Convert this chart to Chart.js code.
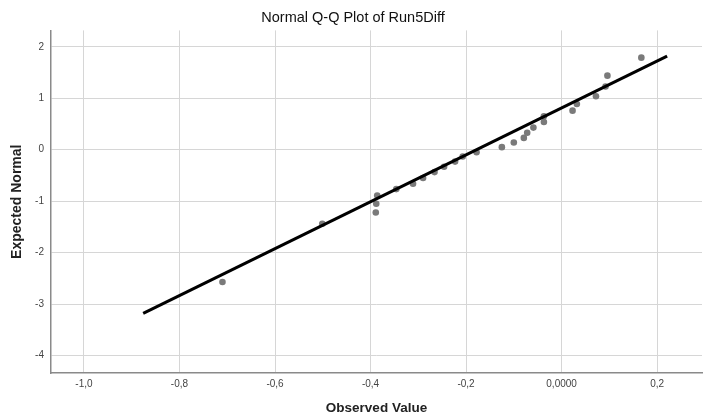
<!DOCTYPE html>
<html>
<head>
<meta charset="utf-8">
<script src="https://cdn.jsdelivr.net/npm/chart.js@4/dist/chart.umd.min.js"></script>
<style>
  html, body { margin: 0; padding: 0; background: #fff; }
  #wrap { width: 706px; height: 417px; }
</style>
</head>
<body>
<div id="wrap"><canvas id="qq" width="706" height="417"></canvas></div>
<script>
// observed values of Run5Diff and their expected normal scores
const observed = [-0.710, -0.501, -0.389, -0.388, -0.386, -0.346, -0.311, -0.290, -0.266, -0.246,
  -0.223, -0.207, -0.178, -0.125, -0.100, -0.079, -0.072, -0.059, -0.037, -0.037,
  0.023, 0.032, 0.072, 0.092, 0.096, 0.167];
const expected = [-2.57, -1.44, -1.22, -1.05, -0.89, -0.765, -0.66, -0.55, -0.435, -0.33,
  -0.23, -0.13, -0.047, 0.05, 0.14, 0.23, 0.33, 0.43, 0.54, 0.65,
  0.76, 0.89, 1.04, 1.23, 1.44, 1.79];

// reference line end points
const lineX = [-0.876, 0.221];
const lineY = [-3.18, 1.82];

const xTicks = [-1.0, -0.8, -0.6, -0.4, -0.2, 0.0, 0.2];
const xTickLabels = ["-1,0", "-0,8", "-0,6", "-0,4", "-0,2", "0,0000", "0,2"];
const yTicks = [-4, -3, -2, -1, 0, 1, 2];
const yTickLabels = ["-4", "-3", "-2", "-1", "0", "1", "2"];

const FONT = "'Liberation Sans', Arial, sans-serif";

new Chart(document.getElementById("qq"), {
  type: "scatter",
  data: {
    datasets: [
      {
        label: "line",
        data: lineX.map((x, i) => ({ x: x, y: lineY[i] })),
        showLine: true,
        borderColor: "#000",
        borderWidth: 3,
        pointRadius: 0,
      },
      {
        label: "Run5Diff",
        data: observed.map((x, i) => ({ x: x, y: expected[i] })),
        backgroundColor: "#7a7a7a",
        borderColor: "#7a7a7a",
        pointRadius: 3.3,
        borderWidth: 0,
      },
    ],
  },
  options: {
    responsive: false,
    animation: false,
    layout: { padding: 0 },
    plugins: {
      legend: { display: false },
      tooltip: { enabled: false },
      title: {
        display: true,
        text: "Normal Q-Q Plot of Run5Diff",
        color: "#111",
        font: { family: FONT, size: 14.5, weight: "normal" },
        padding: { top: 9, bottom: 4 },
      },
    },
    scales: {
      x: {
        type: "linear",
        min: -1.069,
        max: 0.294,
        afterBuildTicks: (s) => { s.ticks = xTicks.map((v) => ({ value: v })); },
        afterFit: (s) => { s.height = 44; },
        grid: { color: "#d6d6d6", lineWidth: 1, drawTicks: false },
        border: { color: "#8a8a8a", width: 1.5 },
        ticks: {
          padding: 5,
          color: "#444",
          font: { family: FONT, size: 10 },
          maxRotation: 0,
          callback: (v) => xTickLabels[xTicks.findIndex((t) => Math.abs(t - v) < 1e-9)],
        },
        title: {
          display: true,
          text: "Observed Value",
          color: "#222",
          font: { family: FONT, size: 13.5, weight: "bold" },
          padding: { top: 0, bottom: 1 },
        },
      },
      y: {
        type: "linear",
        min: -4.34,
        max: 2.32,
        afterBuildTicks: (s) => { s.ticks = yTicks.map((v) => ({ value: v })); },
        afterFit: (s) => { s.width = 51; },
        grid: { color: "#d6d6d6", lineWidth: 1, drawTicks: false },
        border: { color: "#8a8a8a", width: 1.5 },
        ticks: {
          padding: 7,
          color: "#444",
          font: { family: FONT, size: 10 },
          callback: (v) => yTickLabels[yTicks.indexOf(v)],
        },
        title: {
          display: true,
          text: "Expected Normal",
          color: "#222",
          font: { family: FONT, size: 14, weight: "bold" },
          padding: { top: 9, bottom: 0 },
        },
      },
    },
  },
});
</script>
</body>
</html>
